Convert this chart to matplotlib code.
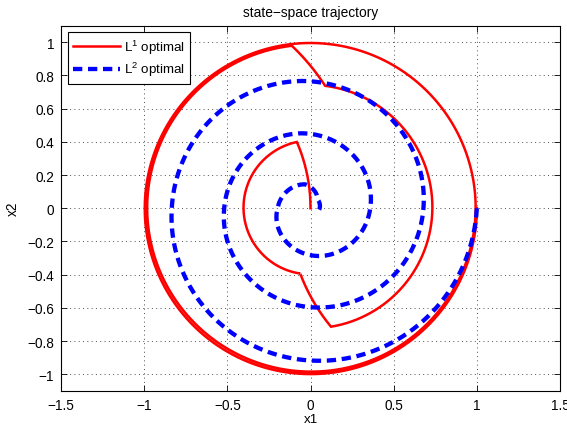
import numpy as np
import matplotlib
matplotlib.use("Agg")
import matplotlib.pyplot as plt

plt.rcParams['font.family'] = ['Liberation Sans', 'DejaVu Sans']
plt.rcParams['mathtext.fontset'] = 'custom'
plt.rcParams['mathtext.rm'] = 'Liberation Sans'
plt.rcParams['mathtext.it'] = 'Liberation Sans:italic'
plt.rcParams['mathtext.bf'] = 'Liberation Sans:bold'
plt.rcParams['lines.scale_dashes'] = False

# ---- data ----
# L1 optimal: bang-off-bang arcs; arc i runs clockwise around centre i
# from switch point i to switch point i+1
l1_center_x1 = [0.0, 0.002, -1.0, 0.0, 1.0, 0.0, -1.0]
l1_center_x2 = [0.0, 0.004, 0.0, 0.0, 0.0, 0.0, 0.0]
l1_switch_x1 = [1.0, 0.993, -0.112, 0.088, 0.123, -0.062, -0.082, 0.0]
l1_switch_x2 = [0.0, 0.0, 0.978, 0.737, -0.713, -0.393, 0.399, 0.0]

# L2 optimal: spiral, points at successive quarter turns (clockwise)
l2_x1 = [1.0, 0.065, -0.834, -0.055, 0.679, 0.075, -0.519, -0.065,
         0.359, 0.07, -0.198, -0.032, 0.042, 0.028]
l2_x2 = [0.0, -0.918, 0.0, 0.766, 0.0, -0.597, 0.0, 0.451,
         0.0, -0.287, 0.0, 0.144, 0.054, -0.032]

xtick_vals = [-1.5, -1, -0.5, 0, 0.5, 1, 1.5]
xtick_labels = ['\u22121.5', '\u22121', '\u22120.5', '0', '0.5', '1', '1.5']
ytick_vals = [-1, -0.8, -0.6, -0.4, -0.2, 0, 0.2, 0.4, 0.6, 0.8, 1]
ytick_labels = ['\u22121', '\u22120.8', '\u22120.6', '\u22120.4', '\u22120.2', '0',
                '0.2', '0.4', '0.6', '0.8', '1']
legend_labels = [r'L$^{1}$ optimal', r'L$^{2}$ optimal']
title_text = 'state\u2212space trajectory'


def arc_path(cx, cy, sx, sy, ex, ey):
    a0 = np.arctan2(sy - cy, sx - cx)
    a1 = np.arctan2(ey - cy, ex - cx)
    r0 = np.hypot(sx - cx, sy - cy)
    r1 = np.hypot(ex - cx, ey - cy)
    sweep = (a0 - a1) % (2 * np.pi)
    if sweep < 1e-6:
        sweep = 2 * np.pi
    n = max(int(sweep / (2 * np.pi) * 720), 20)
    s = np.linspace(0, 1, n)
    ang = a0 - sweep * s
    r = r0 + (r1 - r0) * s
    return cx + r * np.cos(ang), cy + r * np.sin(ang)


l1x, l1y = [], []
for i in range(len(l1_center_x1)):
    x, y = arc_path(l1_center_x1[i], l1_center_x2[i],
                    l1_switch_x1[i], l1_switch_x2[i],
                    l1_switch_x1[i + 1], l1_switch_x2[i + 1])
    l1x.append(x)
    l1y.append(y)
l1x = np.concatenate(l1x)
l1y = np.concatenate(l1y)

# spiral through the read points (polar, clockwise)
px = np.array(l2_x1)
py = np.array(l2_x2)
th = np.unwrap(np.arctan2(py, px))
rr = np.hypot(px, py)
tdense = np.linspace(th[0], th[-1], 3000)
rdense = np.interp(-tdense, -th, rr)
l2x = rdense * np.cos(tdense)
l2y = rdense * np.sin(tdense)

fig = plt.figure(figsize=(5.67, 4.27), dpi=100)
ax = fig.add_axes([61 / 567, 35 / 427, 499 / 567, 365.5 / 427])

h1, = ax.plot(l1x, l1y, color=(1, 0, 0), lw=1.8, solid_joinstyle='miter')
h2, = ax.plot(l2x, l2y, color=(0, 0, 1), lw=3.1, dashes=(6.7, 4.1),
              dash_capstyle='butt')

ax.set_xlim(-1.5, 1.5)
ax.set_ylim(-1.1, 1.1)
ax.set_xticks(xtick_vals)
ax.set_xticklabels(xtick_labels)
ax.set_yticks(ytick_vals)
ax.set_yticklabels(ytick_labels)
ax.tick_params(direction='in', top=True, right=True, length=4, width=0.6,
               labelsize=9.8, pad=5, colors='black')
ax.grid(True, color='0.2', linewidth=0.6, linestyle=(0, (0.7, 2.4)))
for sp in ax.spines.values():
    sp.set_linewidth(0.8)

ax.set_title(title_text, fontsize=9.9, pad=7)
ax.set_xlabel('x1', fontsize=9.6, labelpad=0.5)
ax.set_ylabel('x2', fontsize=9.8, labelpad=5)

leg = ax.legend([h1, h2], legend_labels, loc='upper left',
                bbox_to_anchor=(0.014, 0.982), borderaxespad=0,
                fancybox=False, framealpha=1, edgecolor='black',
                fontsize=9.6, handlelength=3.5, handletextpad=0.3,
                borderpad=0.4, labelspacing=0.35)
leg.get_frame().set_linewidth(0.8)

fig.savefig('out.png', dpi=100)
